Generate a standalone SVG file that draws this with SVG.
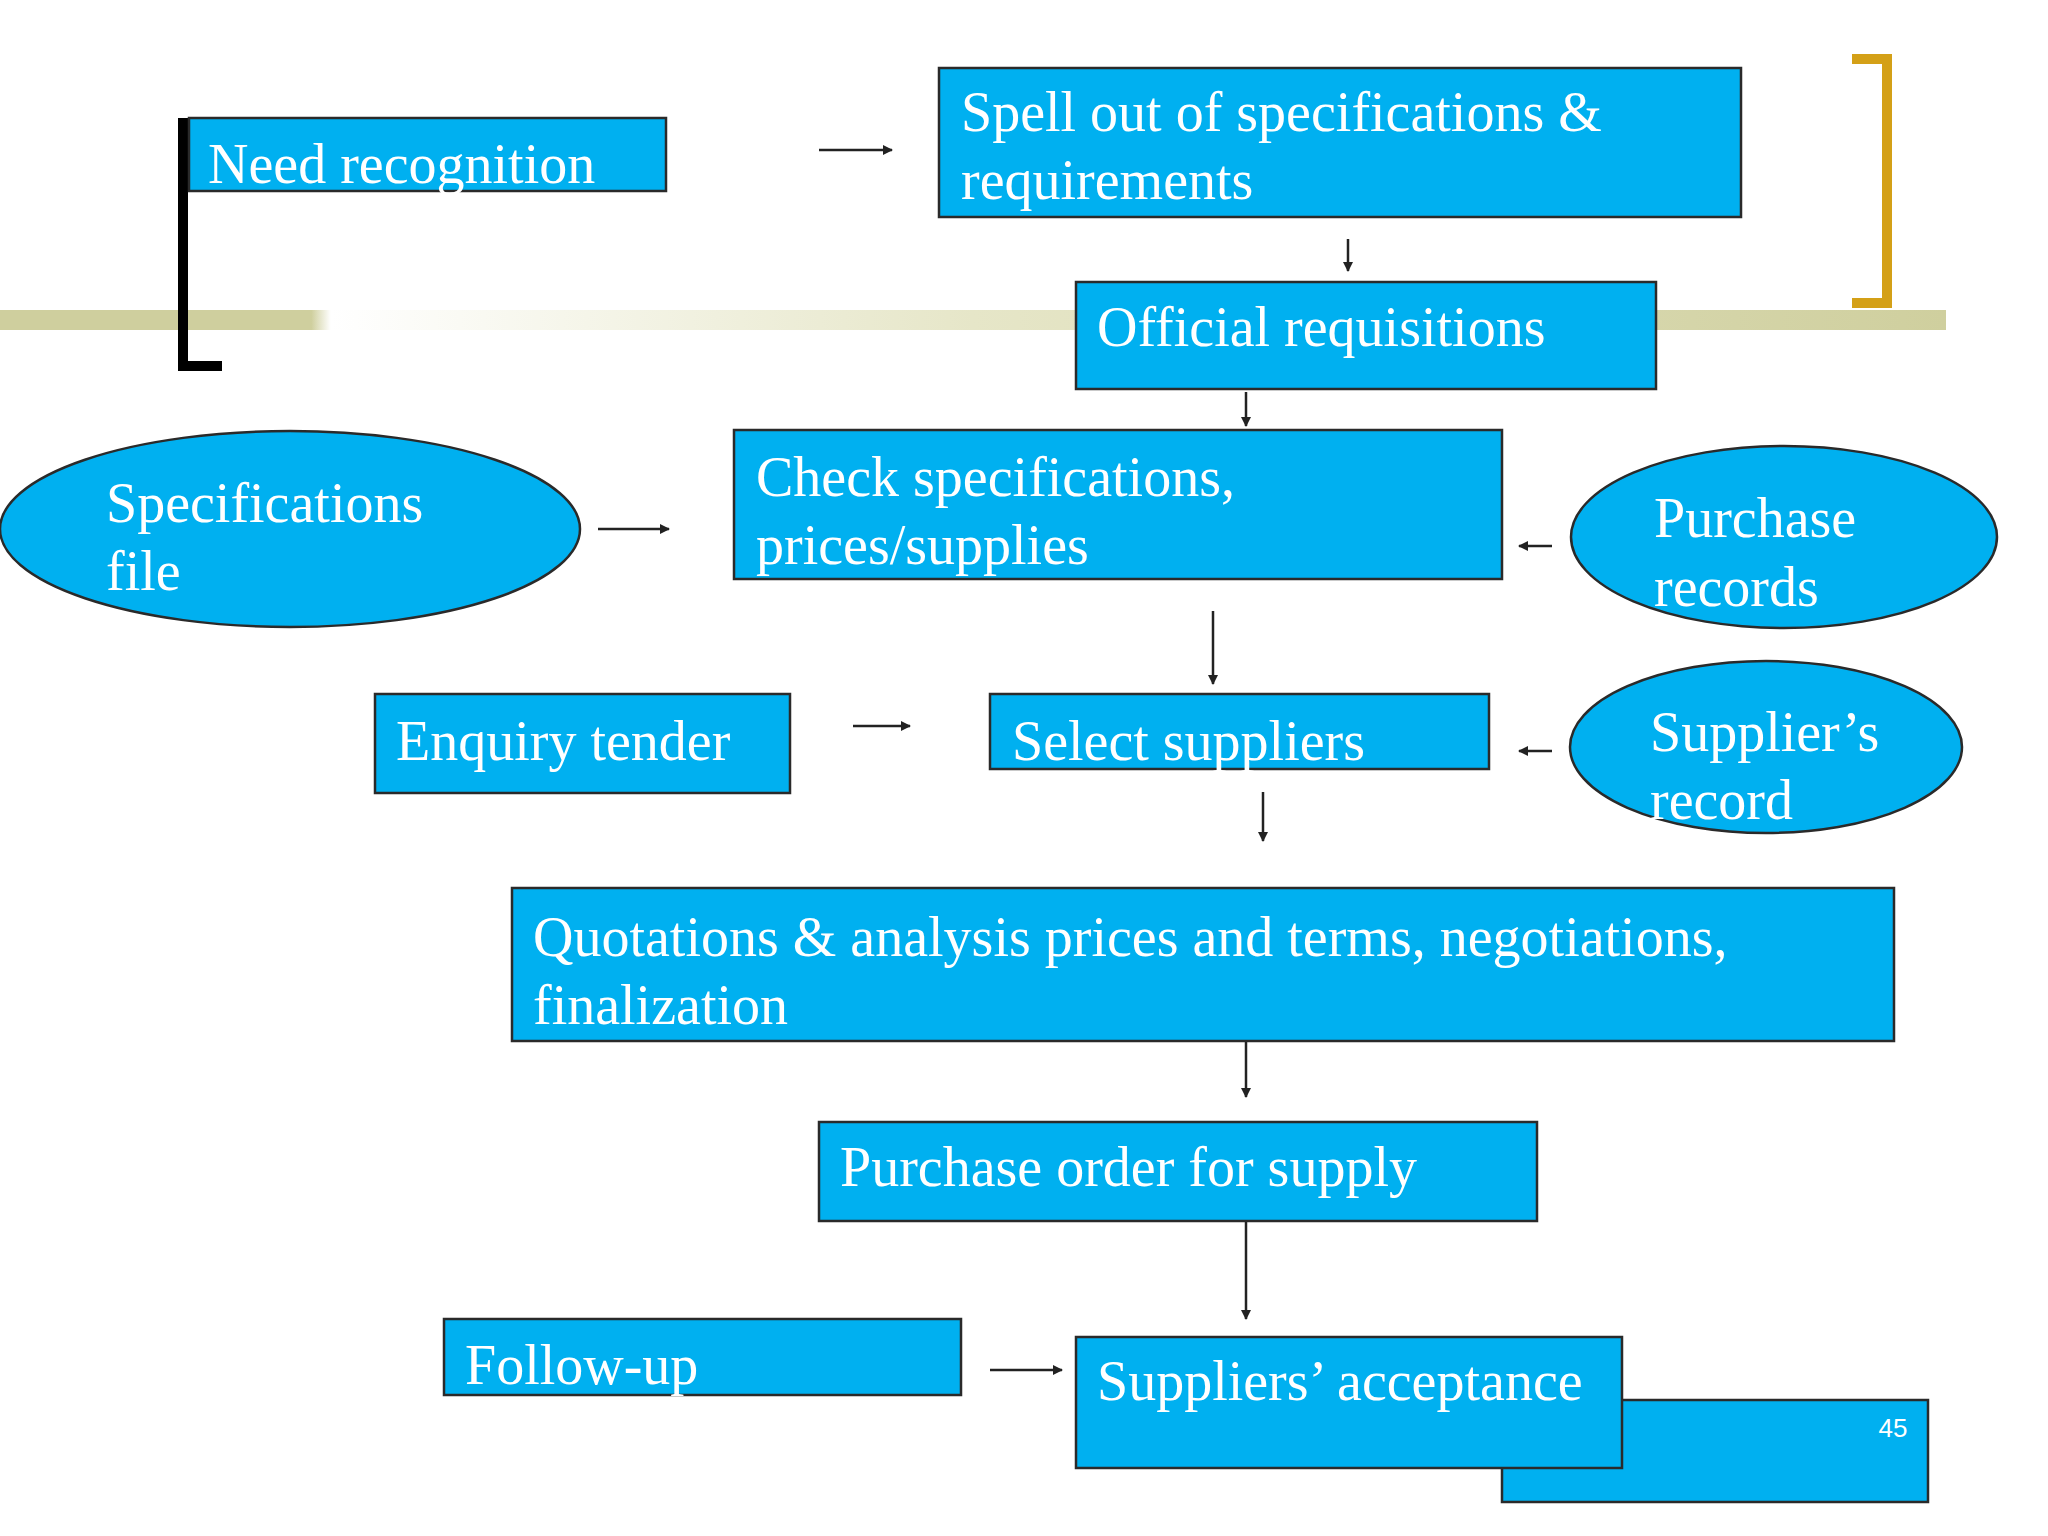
<svg xmlns="http://www.w3.org/2000/svg" width="2048" height="1536" viewBox="0 0 2048 1536">
<style>
.b{fill:#00b0f0;stroke:#2a2a2a;stroke-width:2.5}
.t{font-family:"Liberation Serif",serif;font-size:56px;fill:#fff}
.c{stroke:#222;stroke-width:2.5;fill:none;marker-end:url(#a)}
</style>
<defs>
<marker id="a" markerWidth="10" markerHeight="10" refX="9" refY="5" orient="auto" markerUnits="userSpaceOnUse"><path d="M0,0 L10,5 L0,10 Z" fill="#222"/></marker>
<linearGradient id="g" x1="0" x2="1" y1="0" y2="0">
<stop offset="0" stop-color="#cfcf9e"/><stop offset="0.16" stop-color="#cfcf9e"/><stop offset="0.17" stop-color="#fff"/><stop offset="0.5" stop-color="#e6e6c8"/><stop offset="1" stop-color="#cfcf9e"/>
</linearGradient>
</defs>
<rect width="2048" height="1536" fill="#fff"/>
<rect x="0" y="310" width="1946" height="20" fill="url(#g)"/>
<path d="M183,118 V366 H222" stroke="#000" stroke-width="10" fill="none"/>
<path d="M1852,59 H1887 V303 H1852" stroke="#d4a017" stroke-width="10" fill="none"/>
<g id="connectors">
<line class="c" x1="819" y1="150" x2="892" y2="150"/>
<line class="c" x1="1348" y1="239" x2="1348" y2="271"/>
<line class="c" x1="1246" y1="392" x2="1246" y2="426"/>
<line class="c" x1="598" y1="529" x2="669" y2="529"/>
<line class="c" x1="1552" y1="546" x2="1519" y2="546"/>
<line class="c" x1="1213" y1="611" x2="1213" y2="684"/>
<line class="c" x1="853" y1="726" x2="910" y2="726"/>
<line class="c" x1="1552" y1="751" x2="1519" y2="751"/>
<line class="c" x1="1263" y1="792" x2="1263" y2="841"/>
<line class="c" x1="1246" y1="1041" x2="1246" y2="1097"/>
<line class="c" x1="1246" y1="1221" x2="1246" y2="1319"/>
<line class="c" x1="990" y1="1370" x2="1062" y2="1370"/>
</g>
<g id="n1"><rect class="b" x="189" y="118" width="477" height="73"/><text class="t" x="208" y="183">Need recognition</text></g>
<g id="n2"><rect class="b" x="939" y="68" width="802" height="149"/><text class="t" x="961" y="131">Spell out of specifications &amp;</text><text class="t" x="961" y="199">requirements</text></g>
<g id="n3"><rect class="b" x="1076" y="282" width="580" height="107"/><text class="t" x="1097" y="346">Official requisitions</text></g>
<g id="n4"><ellipse class="b" cx="290" cy="529" rx="290" ry="98"/><text class="t" x="106" y="522">Specifications</text><text class="t" x="106" y="590">file</text></g>
<g id="n5"><rect class="b" x="734" y="430" width="768" height="149"/><text class="t" x="756" y="496">Check specifications,</text><text class="t" x="756" y="564">prices/supplies</text></g>
<g id="n6"><ellipse class="b" cx="1784" cy="537" rx="213" ry="91"/><text class="t" x="1654" y="537">Purchase</text><text class="t" x="1654" y="606">records</text></g>
<g id="n7"><rect class="b" x="375" y="694" width="415" height="99"/><text class="t" x="396" y="760">Enquiry tender</text></g>
<g id="n8"><rect class="b" x="990" y="694" width="499" height="75"/><text class="t" x="1012" y="760">Select suppliers</text></g>
<g id="n9"><ellipse class="b" cx="1766" cy="747" rx="196" ry="86"/><text class="t" x="1650" y="751">Supplier’s</text><text class="t" x="1650" y="819">record</text></g>
<g id="n10"><rect class="b" x="512" y="888" width="1382" height="153"/><text class="t" x="533" y="956">Quotations &amp; analysis prices and terms, negotiations,</text><text class="t" x="533" y="1024">finalization</text></g>
<g id="n11"><rect class="b" x="819" y="1122" width="718" height="99"/><text class="t" x="840" y="1186">Purchase order for supply</text></g>
<g id="n12"><rect class="b" x="444" y="1319" width="517" height="76"/><text class="t" x="465" y="1384">Follow-up</text></g>
<g id="n13"><rect class="b" x="1502" y="1400" width="426" height="102"/><text x="1893" y="1437" font-family="Liberation Sans,sans-serif" font-size="26" fill="#fff" text-anchor="middle">45</text></g>
<g id="n14"><rect class="b" x="1076" y="1337" width="546" height="131"/><text class="t" x="1097" y="1400">Suppliers’ acceptance</text></g>
</svg>
